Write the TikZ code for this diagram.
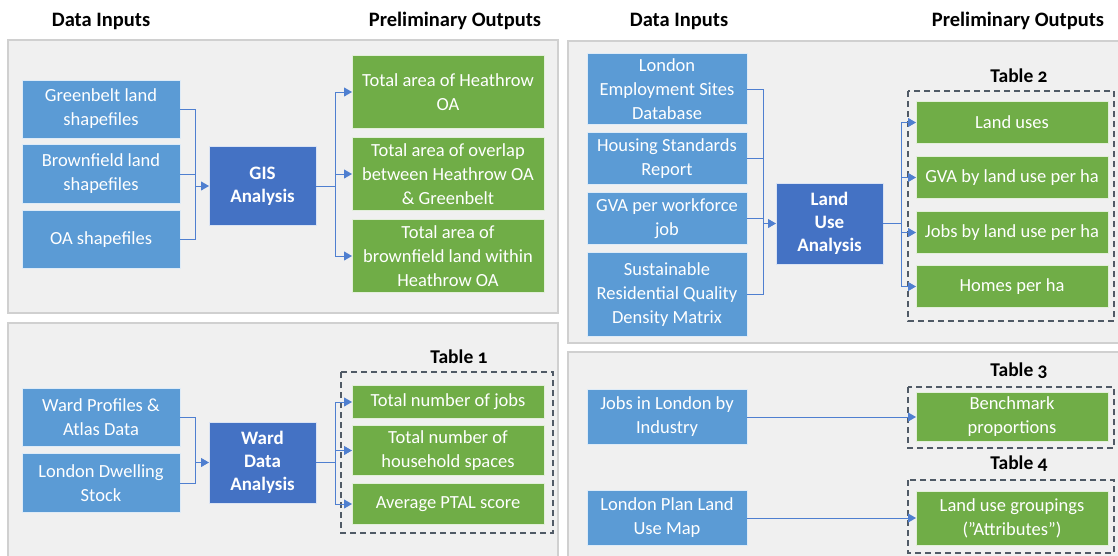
\documentclass[tikz,border=0pt]{standalone}
\usepackage{fontspec}
\setmainfont{Carlito}
\newfontfamily\tablefont[Numbers=OldStyle]{Carlito}
\usetikzlibrary{arrows.meta}
\definecolor{inblue}{HTML}{5B9BD5}
\definecolor{hubblue}{HTML}{4472C4}
\definecolor{outgreen}{HTML}{70AD47}
\definecolor{panelgray}{HTML}{F0F0F0}
\definecolor{panelline}{HTML}{D0D0D0}
\definecolor{dashgray}{HTML}{505A66}
\definecolor{linkblue}{HTML}{4F7FD0}

\begin{document}
\begin{tikzpicture}[x=1pt,y=-1pt,
    panel/.style={fill=panelgray, draw=panelline, line width=1.5pt},
    boxtext/.style={text=white, align=center, inner sep=0pt, outer sep=0pt,
        font=\fontsize{18.5}{24}\selectfont},
    inbox/.style={boxtext, fill=inblue, draw=white!80!inblue, line width=0.8pt},
    hubbox/.style={boxtext, fill=hubblue, draw=white!80!hubblue, line width=0.8pt,
        minimum width=107pt, minimum height=81pt,
        font=\bfseries\fontsize{19}{23}\selectfont},
    outbox/.style={boxtext, fill=outgreen, draw=white!80!outgreen, line width=0.8pt,
        minimum width=192pt},
    tablebox/.style={draw=dashgray, line width=1.5pt, dash pattern=on 6pt off 4pt},
    header/.style={font=\bfseries\fontsize{20.5}{24}\selectfont},
    tablelabel/.style={font=\tablefont\bfseries\fontsize{19.5}{23}\selectfont},
    link/.style={draw=linkblue, line width=0.9pt},
    linkarrow/.style={link, -{Triangle[length=8pt,width=9pt]}}]

    \useasboundingbox (0,0) rectangle (1118,555);

    % panels
    \draw[panel] (8,40) rectangle (558,313);
    \draw[panel] (8,323) rectangle (558,562);
    \draw[panel] (568,41) rectangle (1125,343);
    \draw[panel] (568,352) rectangle (1125,562);

    % headings
    \node[header] (hin1) at (101,21) {Data Inputs};
    \node[header] (hout1) at (455,21) {Preliminary Outputs};
    \node[header] (hin2) at (679,21) {Data Inputs};
    \node[header] (hout2) at (1018,21) {Preliminary Outputs};

    % GIS analysis
    \node[inbox, minimum width=158pt, minimum height=58pt] (gb) at (101,109) {Greenbelt land\\shapefiles};
    \node[inbox, minimum width=158pt, minimum height=59pt] (bf) at (101,174) {Brownfield land\\shapefiles};
    \node[inbox, minimum width=158pt, minimum height=58pt] (oa) at (101,239.5) {OA shapefiles};
    \node[hubbox, minimum height=79pt] (gis) at (262.5,186) {GIS\\Analysis};
    \node[outbox, minimum height=73pt] (hoa) at (448,92) {Total area of Heathrow\\OA};
    \node[outbox, minimum height=73pt] (ovl) at (448,174) {Total area of overlap\\between Heathrow OA\\\& Greenbelt};
    \node[outbox, minimum height=73pt] (bfw) at (448,256) {Total area of\\brownfield land within\\Heathrow OA};
    \coordinate (gisin) at (195,186);
    \coordinate (gisout) at (335,186);
    \draw[link] (gb.east) -| (gisin);
    \draw[link] (bf.east) -| (gisin);
    \draw[link] (oa.east) -| (gisin);
    \draw[linkarrow] (gisin) -- (gis.west);
    \draw[link] (gis.east) -- (gisout);
    \draw[linkarrow] (gisout) |- (hoa.west);
    \draw[linkarrow] (gisout) |- (ovl.west);
    \draw[linkarrow] (gisout) |- (bfw.west);

    % Ward data analysis
    \node[tablelabel] (t1) at (459,357) {Table 1};
    \draw[tablebox] (341,372) rectangle (553,533);
    \node[inbox, minimum width=158pt, minimum height=58pt] (wp) at (101,417.5) {Ward Profiles \&\\Atlas Data};
    \node[inbox, minimum width=158pt, minimum height=59pt] (ld) at (101,483) {London Dwelling\\Stock};
    \node[hubbox] (wda) at (262.5,462.5) {Ward\\Data\\Analysis};
    \node[outbox, minimum height=33pt] (nj) at (448,402) {Total number of jobs};
    \node[outbox, minimum height=50pt] (nh) at (448,450.5) {Total number of\\household spaces};
    \node[outbox, minimum height=41pt] (pt) at (448,504) {Average PTAL score};
    \coordinate (wdain) at (195,462.5);
    \coordinate (wdaout) at (335,462.5);
    \draw[link] (wp.east) -| (wdain);
    \draw[link] (ld.east) -| (wdain);
    \draw[linkarrow] (wdain) -- (wda.west);
    \draw[link] (wda.east) -- (wdaout);
    \draw[linkarrow] (wdaout) |- (nj.west);
    \draw[linkarrow] (wdaout) |- (nh.west);
    \draw[linkarrow] (wdaout) |- (pt.west);

    % Land use analysis
    \node[tablelabel] (t2) at (1019,76) {Table 2};
    \draw[tablebox] (908,91) rectangle (1114,321);
    \node[inbox, minimum width=160pt, minimum height=71pt] (les) at (667,89) {London\\Employment Sites\\Database};
    \node[inbox, minimum width=160pt, minimum height=52pt] (hsr) at (667,158.5) {Housing Standards\\Report};
    \node[inbox, minimum width=160pt, minimum height=52pt] (gva) at (667,218.5) {GVA per workforce\\job};
    \node[inbox, minimum width=160pt, minimum height=84pt] (srq) at (667,294.5) {Sustainable\\Residential Quality\\Density Matrix};
    \node[hubbox] (lua) at (829.5,223.5) {Land\\Use\\Analysis};
    \node[outbox, minimum height=42pt] (lu) at (1012,122.5) {Land uses};
    \node[outbox, minimum height=42pt] (gl) at (1012,177.5) {GVA by land use per ha};
    \node[outbox, minimum height=42pt] (jl) at (1012,232.5) {Jobs by land use per ha};
    \node[outbox, minimum height=42pt] (hp) at (1012,286.5) {Homes per ha};
    \coordinate (luain) at (763,223.5);
    \coordinate (luaout) at (901,223.5);
    \draw[link] (les.east) -| (luain);
    \draw[link] (hsr.east) -| (luain);
    \draw[link] (gva.east) -| (luain);
    \draw[link] (srq.east) -| (luain);
    \draw[linkarrow] (luain) -- (lua.west);
    \draw[link] (lua.east) -- (luaout);
    \draw[linkarrow] (luaout) |- (lu.west);
    \draw[linkarrow] (luaout) |- (gl.west);
    \draw[linkarrow] (luaout) |- (jl.west);
    \draw[linkarrow] (luaout) |- (hp.west);

    % benchmark and groupings
    \node[tablelabel] (t3) at (1019,371) {Table 3};
    \draw[tablebox] (908,387) rectangle (1114,448);
    \node[tablelabel] (t4) at (1019,464) {Table 4};
    \draw[tablebox] (908,480) rectangle (1114,553);
    \node[inbox, minimum width=160pt, minimum height=55pt] (jli) at (667,417) {Jobs in London by\\Industry};
    \node[inbox, minimum width=160pt, minimum height=55pt] (lpm) at (667,518) {London Plan Land\\Use Map};
    \node[outbox, minimum height=49pt] (bp) at (1012,417) {Benchmark\\proportions};
    \node[outbox, minimum height=54pt] (lug) at (1012,518) {Land use groupings\\(”Attributes”)};
    \draw[linkarrow] (jli.east) -- (bp.west);
    \draw[linkarrow] (lpm.east) -- (lug.west);
\end{tikzpicture}
\end{document}
